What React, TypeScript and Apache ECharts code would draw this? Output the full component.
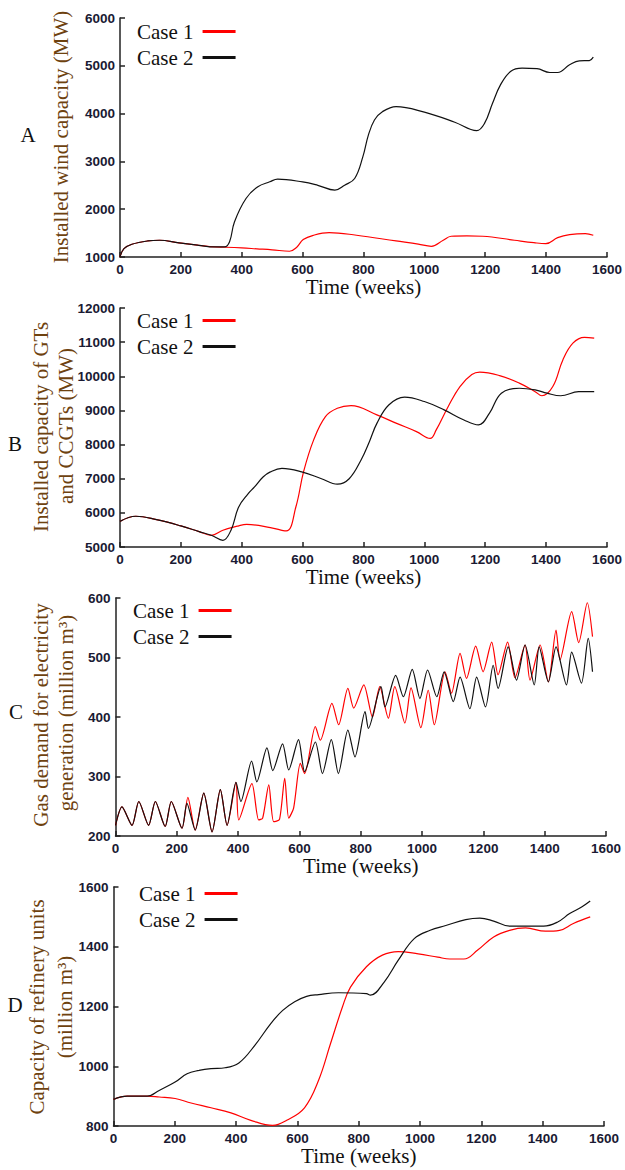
import React, { useEffect, useRef } from "react";
import * as echarts from "echarts";

// ---------- Panel A: installed wind capacity (MW) ----------
const aWeeksCase1 = [0, 13, 39, 91, 130, 194, 259, 311, 343, 400, 450, 500, 557, 580, 602, 635, 687, 777, 907, 980, 1023, 1062, 1088, 1140, 1192, 1296, 1360, 1399, 1438, 1477, 1529, 1555];
const aCase1 = [1000, 1175, 1266, 1336, 1350, 1294, 1245, 1210, 1205, 1190, 1170, 1150, 1120, 1200, 1364, 1454, 1510, 1455, 1336, 1270, 1224, 1350, 1434, 1440, 1434, 1350, 1300, 1280, 1405, 1468, 1490, 1455];
const aWeeksCase2 = [0, 13, 39, 91, 130, 194, 259, 311, 343, 360, 376, 414, 453, 492, 518, 600, 650, 706, 738, 771, 798, 816, 836, 862, 907, 1000, 1100, 1172, 1198, 1224, 1250, 1283, 1321, 1370, 1412, 1438, 1477, 1509, 1542, 1555];
const aCase2 = [1000, 1175, 1266, 1336, 1350, 1294, 1245, 1210, 1210, 1320, 1734, 2224, 2470, 2573, 2630, 2570, 2500, 2400, 2503, 2643, 3100, 3550, 3867, 4040, 4147, 4030, 3820, 3643, 3800, 4217, 4600, 4880, 4950, 4940, 4860, 4860, 5020, 5105, 5110, 5180];

// ---------- Panel B: installed capacity of GTs and CCGTs (MW) ----------
const bWeeksCase1 = [0, 52, 120, 200, 260, 300, 338, 390, 416, 494, 546, 578, 603, 636, 675, 714, 759, 844, 909, 974, 1019, 1039, 1078, 1117, 1156, 1182, 1247, 1312, 1364, 1386, 1422, 1455, 1488, 1526, 1558];
const bCase1 = [5750, 5900, 5800, 5617, 5450, 5343, 5490, 5620, 5660, 5570, 5470, 6180, 7200, 8130, 8820, 9065, 9140, 8870, 8620, 8380, 8180, 8430, 9110, 9700, 10050, 10120, 10020, 9800, 9550, 9430, 9700, 10480, 10970, 11140, 11120];
const bWeeksCase2 = [0, 52, 120, 200, 260, 300, 338, 365, 390, 420, 442, 470, 494, 532, 597, 662, 714, 753, 792, 820, 844, 883, 935, 1000, 1065, 1130, 1178, 1214, 1253, 1312, 1364, 1403, 1448, 1507, 1558];
const bCase2 = [5750, 5900, 5800, 5617, 5450, 5343, 5196, 5500, 6175, 6550, 6760, 7050, 7200, 7300, 7200, 7000, 6840, 7000, 7550, 8100, 8620, 9160, 9390, 9260, 9015, 8720, 8575, 8920, 9505, 9650, 9600, 9505, 9430, 9550, 9550];

// ---------- Panel C: gas demand for electricity generation (million m3) ----------
const cWeeksCase1 = [0, 21, 54, 76, 108, 130, 162, 182, 217, 236, 260, 288, 315, 342, 364, 393, 402, 445, 467, 480, 500, 516, 535, 552, 565, 581, 603, 617, 652, 668, 706, 728, 758, 777, 810, 838, 862, 890, 911, 944, 964, 996, 1020, 1040, 1075, 1096, 1124, 1145, 1175, 1199, 1227, 1248, 1279, 1303, 1336, 1352, 1385, 1412, 1437, 1450, 1488, 1511, 1539, 1556];
const cCase1 = [218, 249, 218, 258, 218, 258, 216, 258, 213, 265, 210, 272, 207, 278, 218, 290, 227, 288, 227, 230, 286, 224, 228, 297, 230, 247, 322, 305, 384, 361, 423, 387, 448, 415, 454, 400, 451, 398, 451, 390, 449, 382, 445, 387, 476, 440, 507, 465, 519, 476, 526, 471, 526, 466, 521, 462, 521, 459, 546, 496, 577, 525, 592, 535];
const cWeeksCase2 = [0, 21, 54, 76, 108, 130, 162, 182, 217, 233, 260, 288, 315, 342, 364, 393, 409, 444, 461, 494, 513, 545, 565, 597, 617, 652, 675, 704, 727, 758, 781, 814, 825, 866, 879, 914, 939, 968, 993, 1018, 1048, 1072, 1102, 1124, 1156, 1178, 1207, 1232, 1248, 1281, 1308, 1336, 1366, 1382, 1412, 1437, 1471, 1488, 1520, 1542, 1556];
const cCase2 = [218, 249, 218, 258, 218, 258, 216, 258, 213, 255, 210, 272, 207, 278, 218, 290, 258, 326, 291, 348, 310, 355, 311, 362, 308, 358, 305, 362, 305, 378, 333, 409, 381, 451, 417, 470, 434, 480, 431, 479, 434, 476, 426, 467, 414, 467, 417, 487, 448, 518, 462, 521, 454, 518, 459, 518, 454, 509, 457, 532, 476];

// ---------- Panel D: capacity of refinery units (million m3) ----------
const dWeeksCase1 = [0, 45, 110, 149, 201, 253, 318, 383, 448, 519, 565, 623, 669, 708, 747, 773, 825, 877, 929, 994, 1058, 1097, 1143, 1188, 1240, 1292, 1344, 1409, 1455, 1500, 1555];
const dCase1 = [889, 900, 900, 897, 892, 877, 861, 844, 819, 802, 819, 861, 953, 1076, 1199, 1265, 1333, 1372, 1384, 1376, 1365, 1359, 1359, 1389, 1433, 1455, 1463, 1452, 1455, 1478, 1500];
const dWeeksCase2 = [0, 45, 110, 149, 201, 240, 279, 318, 364, 409, 461, 513, 552, 591, 630, 669, 734, 825, 838, 883, 929, 981, 1033, 1084, 1149, 1195, 1240, 1292, 1357, 1403, 1449, 1488, 1527, 1555];
const dCase2 = [889, 900, 900, 919, 947, 975, 986, 992, 995, 1011, 1070, 1143, 1187, 1216, 1234, 1240, 1246, 1243, 1238, 1282, 1355, 1427, 1455, 1471, 1491, 1496, 1486, 1469, 1469, 1469, 1483, 1511, 1533, 1553];

const seriesNames = ["Case 1", "Case 2"];
const xTickMax = 1600;
const xTickStep = 200;
const yRanges = [
  { min: 1000, max: 6000, interval: 1000 },
  { min: 5000, max: 12000, interval: 1000 },
  { min: 200, max: 600, interval: 100 },
  { min: 800, max: 1600, interval: 200 },
];
const panelLetters = ["A", "B", "C", "D"];
const yNames = [
  ["Installed wind capacity (MW)"],
  ["Installed capacity of GTs", "and CCGTs (MW)"],
  ["Gas demand for electricity", "generation (million m³)"],
  ["Capacity of refinery units", "(million m³)"],
];

const pairs = (w: number[], v: number[]) => w.map((t, i) => [t, v[i]]);

const panelData = [
  [pairs(aWeeksCase1, aCase1), pairs(aWeeksCase2, aCase2)],
  [pairs(bWeeksCase1, bCase1), pairs(bWeeksCase2, bCase2)],
  [pairs(cWeeksCase1, cCase1), pairs(cWeeksCase2, cCase2)],
  [pairs(dWeeksCase1, dCase1), pairs(dWeeksCase2, dCase2)],
];

const grids = [
  { left: 120, right: 13, top: 18, height: 239 },
  { left: 120, right: 15, top: 308, height: 239 },
  { left: 115.5, right: 19, top: 598, height: 238 },
  { left: 113.5, right: 21, top: 887, height: 239 },
];
const legendPos = [
  { left: 132, top: 16 },
  { left: 132, top: 305 },
  { left: 128, top: 595 },
  { left: 134, top: 878 },
];
const letterPos = [
  [28, 135],
  [15, 444],
  [16, 712],
  [15, 1005],
];
const namePos = [
  [[61, 137]],
  [[41, 427], [66, 426]],
  [[41, 715], [66, 713]],
  [[37, 1007], [65, 1007]],
];

const SERIF = '"Liberation Serif", "Times New Roman", serif';
const SANS = '"Liberation Sans", Arial, sans-serif';
const axisColor = "#222";
const tickLabel = {
  fontFamily: SANS,
  fontWeight: "bold" as const,
  fontSize: 13.5,
  color: "#1a1a33",
  margin: 5,
  formatter: (v: number) => String(v),
};
const nameColor = "#6e420f";

export default function App() {
  const ref = useRef<HTMLDivElement>(null);
  useEffect(() => {
    document.body.style.margin = "0";
    if (!ref.current) return;
    const chart = echarts.init(ref.current, undefined, { renderer: "svg" });

    const xAxis = grids.map((_, i) => ({
      type: "value",
      gridIndex: i,
      min: 0,
      max: xTickMax,
      interval: xTickStep,
      name: "Time (weeks)",
      nameLocation: "middle",
      nameGap: 19,
      nameTextStyle: { fontFamily: SERIF, fontSize: 21, color: "#111" },
      axisLine: { onZero: false, lineStyle: { color: axisColor, width: 1.5 } },
      axisTick: { inside: true, length: 5, lineStyle: { color: axisColor, width: 1.5 } },
      axisLabel: tickLabel,
      splitLine: { show: false },
    }));
    const yAxis = grids.map((_, i) => ({
      type: "value",
      gridIndex: i,
      ...yRanges[i],
      axisLine: { show: true, onZero: false, lineStyle: { color: axisColor, width: 1.5 } },
      axisTick: { show: true, inside: true, length: 5, lineStyle: { color: axisColor, width: 1.5 } },
      axisLabel: tickLabel,
      splitLine: { show: false },
    }));
    const series: any[] = [];
    panelData.forEach((pd, i) => {
      pd.forEach((d, k) => {
        series.push({
          type: "line",
          name: seriesNames[k],
          xAxisIndex: i,
          yAxisIndex: i,
          data: d,
          showSymbol: false,
          smooth: i === 2 ? 0.25 : 0.4,
          lineStyle: { color: k === 0 ? "#ff0000" : "#111", width: 1.2 },
          itemStyle: { color: k === 0 ? "#ff0000" : "#111" },
          z: 2 + k,
        });
      });
    });
    const legend = legendPos.map((p) => ({
      orient: "vertical",
      left: p.left,
      top: p.top,
      align: "right",
      icon: "rect",
      itemWidth: 33,
      itemHeight: 3,
      itemGap: 5,
      selectedMode: false,
      textStyle: { fontFamily: SERIF, fontSize: 21, color: "#111", lineHeight: 21, padding: [0, 4, 0, 0] },
      data: seriesNames,
    }));
    const graphic: any[] = [];
    panelLetters.forEach((L, i) => {
      graphic.push({
        type: "text",
        x: letterPos[i][0],
        y: letterPos[i][1],
        style: { text: L, font: `21px ${SERIF}`, fill: "#111", align: "center", verticalAlign: "middle" },
      });
      yNames[i].forEach((t, j) => {
        graphic.push({
          type: "text",
          x: namePos[i][j][0],
          y: namePos[i][j][1],
          rotation: Math.PI / 2,
          style: { text: t, font: `21px ${SERIF}`, fill: nameColor, align: "center", verticalAlign: "middle" },
        });
      });
    });

    chart.setOption({
      animation: false,
      backgroundColor: "#fff",
      grid: grids,
      xAxis,
      yAxis,
      legend,
      series,
      graphic,
    });
    return () => chart.dispose();
  }, []);
  return <div ref={ref} style={{ width: 625, height: 1170 }} />;
}
